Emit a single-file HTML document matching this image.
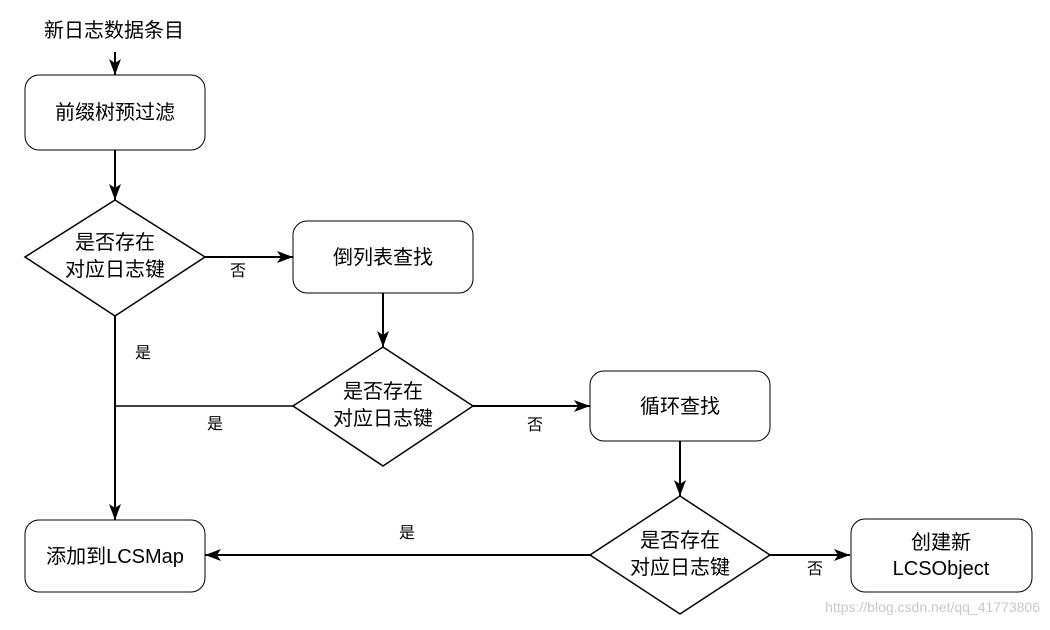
<!DOCTYPE html>
<html><head><meta charset="utf-8"><style>
html,body{margin:0;padding:0;background:#fff;}
svg text{font-family:"Liberation Sans","Noto Sans CJK SC",sans-serif;fill:#000;}
</style></head><body>
<svg width="1050" height="625" viewBox="0 0 1050 625" xmlns="http://www.w3.org/2000/svg">
<defs><marker id="a" markerWidth="10" markerHeight="10" refX="9" refY="5" orient="auto" markerUnits="userSpaceOnUse"><path d="M0,0 L10,5 L0,10 L2,5 Z" fill="#000"/></marker>
<marker id="b" viewBox="0 0 16 12" markerWidth="16" markerHeight="12" refX="16" refY="6" orient="auto" markerUnits="userSpaceOnUse"><path d="M0,0 L16,6 L0,12 L4,6 Z" fill="#000"/></marker></defs>
<g stroke="#000" stroke-width="2" fill="none">
<line x1="115" y1="52" x2="115" y2="75" marker-end="url(#b)"/>
<rect x="25" y="75" width="180" height="75" rx="14" stroke-width="1"/>
<line x1="115" y1="150" x2="115" y2="200" marker-end="url(#b)"/>
<polygon points="115,200 205,257 115,316 25,257" stroke-width="1.5"/>
<line x1="205" y1="257" x2="293" y2="257" marker-end="url(#b)"/>
<rect x="293" y="221" width="180" height="72" rx="14" stroke-width="1"/>
<line x1="383" y1="293" x2="383" y2="347" marker-end="url(#b)"/>
<polygon points="383,347 473,406 383,466 293,406" stroke-width="1.5"/>
<line x1="115" y1="316" x2="115" y2="520" marker-end="url(#b)"/>
<line x1="293" y1="406" x2="115" y2="406" stroke-width="1.5"/>
<line x1="473" y1="406" x2="590" y2="406" marker-end="url(#b)"/>
<rect x="590" y="371" width="180" height="70" rx="14" stroke-width="1"/>
<line x1="680" y1="441" x2="680" y2="496" marker-end="url(#b)"/>
<polygon points="680,496 770,555 680,614 590,555" stroke-width="1.5"/>
<line x1="590" y1="555" x2="205" y2="555" marker-end="url(#b)"/>
<rect x="25" y="520" width="180" height="72" rx="14" stroke-width="1"/>
<line x1="770" y1="555" x2="850" y2="555" marker-end="url(#b)"/>
<rect x="851" y="519" width="181" height="73" rx="14" stroke-width="1"/>
</g>
<g font-size="20" text-anchor="middle">
<text x="114" y="37">新日志数据条目</text>
<text x="115" y="119">前缀树预过滤</text>
<text x="115" y="249">是否存在</text><text x="115" y="276">对应日志键</text>
<text x="383" y="264">倒列表查找</text>
<text x="383" y="398">是否存在</text><text x="383" y="425">对应日志键</text>
<text x="680" y="413">循环查找</text>
<text x="680" y="547">是否存在</text><text x="680" y="574">对应日志键</text>
<text x="115" y="563">添加到LCSMap</text>
<text x="941" y="549">创建新</text><text x="941" y="575">LCSObject</text>
</g>
<g font-size="16" text-anchor="middle">
<text x="238" y="276">否</text>
<text x="143" y="358">是</text>
<text x="215" y="429">是</text>
<text x="535" y="430">否</text>
<text x="407" y="538">是</text>
<text x="815" y="574">否</text>
</g>
<text x="1040" y="612" font-size="14" text-anchor="end" style="fill:#c8c8c8">https://blog.csdn.net/qq_41773806</text>
</svg>
</body></html>
